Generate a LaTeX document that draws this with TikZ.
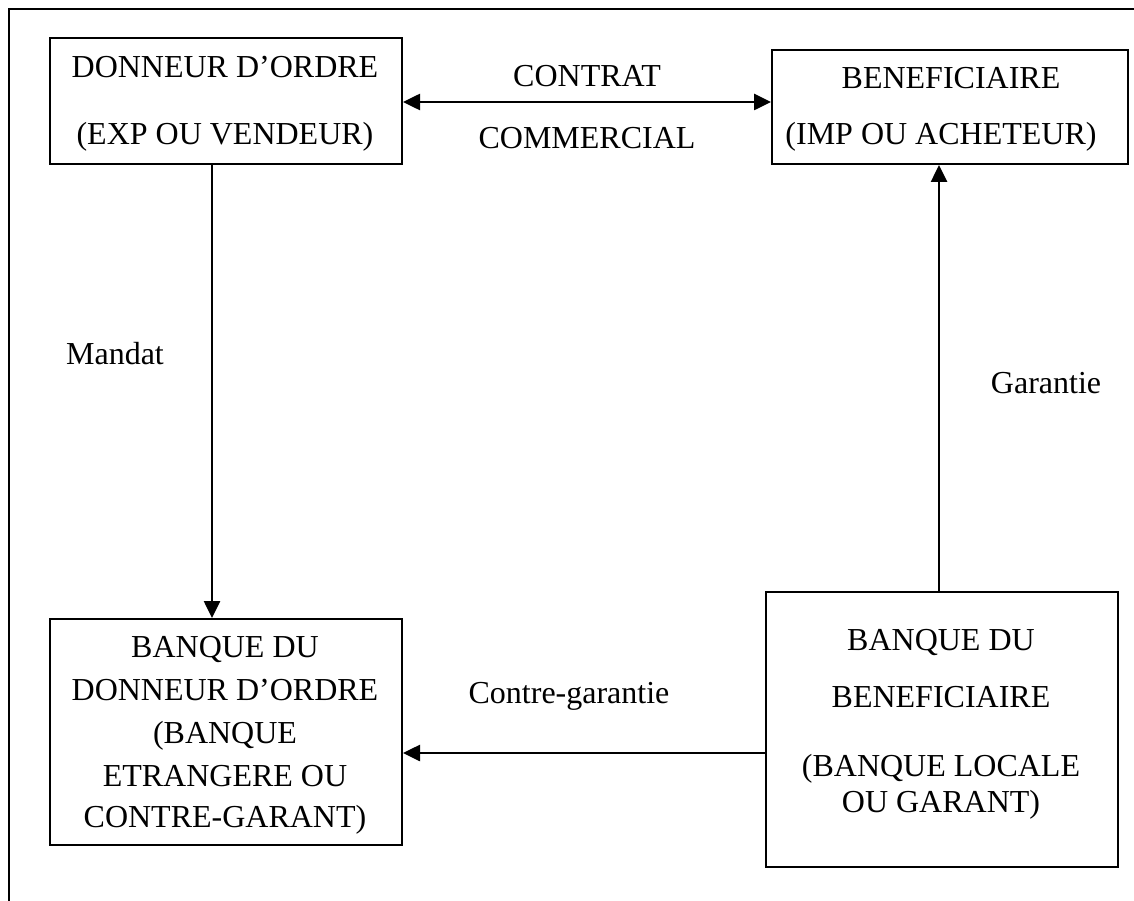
\documentclass[tikz,border=0pt]{standalone}
\usepackage{fontspec}
\setmainfont{Liberation Serif}
\usetikzlibrary{arrows.meta}
\begin{document}
\begin{tikzpicture}[x=1pt,y=-1pt,
  box/.style={draw,line width=2pt,rectangle,inner sep=0pt,anchor=north west},
  lbl/.style={anchor=base,inner sep=0pt,font=\fontsize{32}{36}\selectfont},
  tip/.style={Triangle[length=17pt,width=16pt]},
  link/.style={line width=2.6pt,-{Triangle[length=17pt,width=16pt]}},
  dlink/.style={line width=2.6pt,{Triangle[length=17pt,width=16pt]}-{Triangle[length=17pt,width=16pt]}}]
\useasboundingbox (0,0) rectangle (1134,901);
% page frame (top and left edges)
\draw[line width=2pt] (1134,9) -- (9,9) -- (9,901);

% boxes
\node[box,minimum width=352pt,minimum height=126pt] (tl) at (49,37) {};
\node[box,minimum width=356pt,minimum height=114pt] (tr) at (771,49) {};
\node[box,minimum width=352pt,minimum height=226pt] (bl) at (49,618) {};
\node[box,minimum width=352pt,minimum height=275pt] (br) at (765,591) {};

% box texts
\node[lbl] (tl1) at (225,78) {DONNEUR D’ORDRE};
\node[lbl] (tl2) at (225,145) {(EXP OU VENDEUR)};
\node[lbl] (tr1) at (951,89) {BENEFICIAIRE};
\node[lbl] (tr2) at (941,145) {(IMP OU ACHETEUR)};
\node[lbl] (bl1) at (225,657) {BANQUE DU};
\node[lbl] (bl2) at (225,700) {DONNEUR D’ORDRE};
\node[lbl] (bl3) at (225,743) {(BANQUE};
\node[lbl] (bl4) at (225,786) {ETRANGERE OU};
\node[lbl] (bl5) at (225,827) {CONTRE-GARANT)};
\node[lbl] (br1) at (941,650) {BANQUE DU};
\node[lbl] (br2) at (941,707) {BENEFICIAIRE};
\node[lbl] (br3) at (941,776) {(BANQUE LOCALE};
\node[lbl] (br4) at (941,812) {OU GARANT)};

% connector labels
\node[lbl] (c1) at (587,87) {CONTRAT};
\node[lbl] (c2) at (587,149) {COMMERCIAL};
\node[lbl] (mandat) at (115,364) {Mandat};
\node[lbl] (garantie) at (1046,393) {Garantie};
\node[lbl] (contre) at (569,703) {Contre-garantie};

% connector guides
\coordinate (ycontrat) at (0,102);
\coordinate (xmandat) at (212,0);
\coordinate (xgarantie) at (939,0);
\coordinate (ycontre) at (0,753);

% connectors
\draw[dlink] (tl.east |- ycontrat) -- (tr.west |- ycontrat);
\draw[link] (tl.south -| xmandat) -- (bl.north -| xmandat);
\draw[link] (br.north -| xgarantie) -- (tr.south -| xgarantie);
\draw[link] (br.west |- ycontre) -- (bl.east |- ycontre);
\end{tikzpicture}
\end{document}
